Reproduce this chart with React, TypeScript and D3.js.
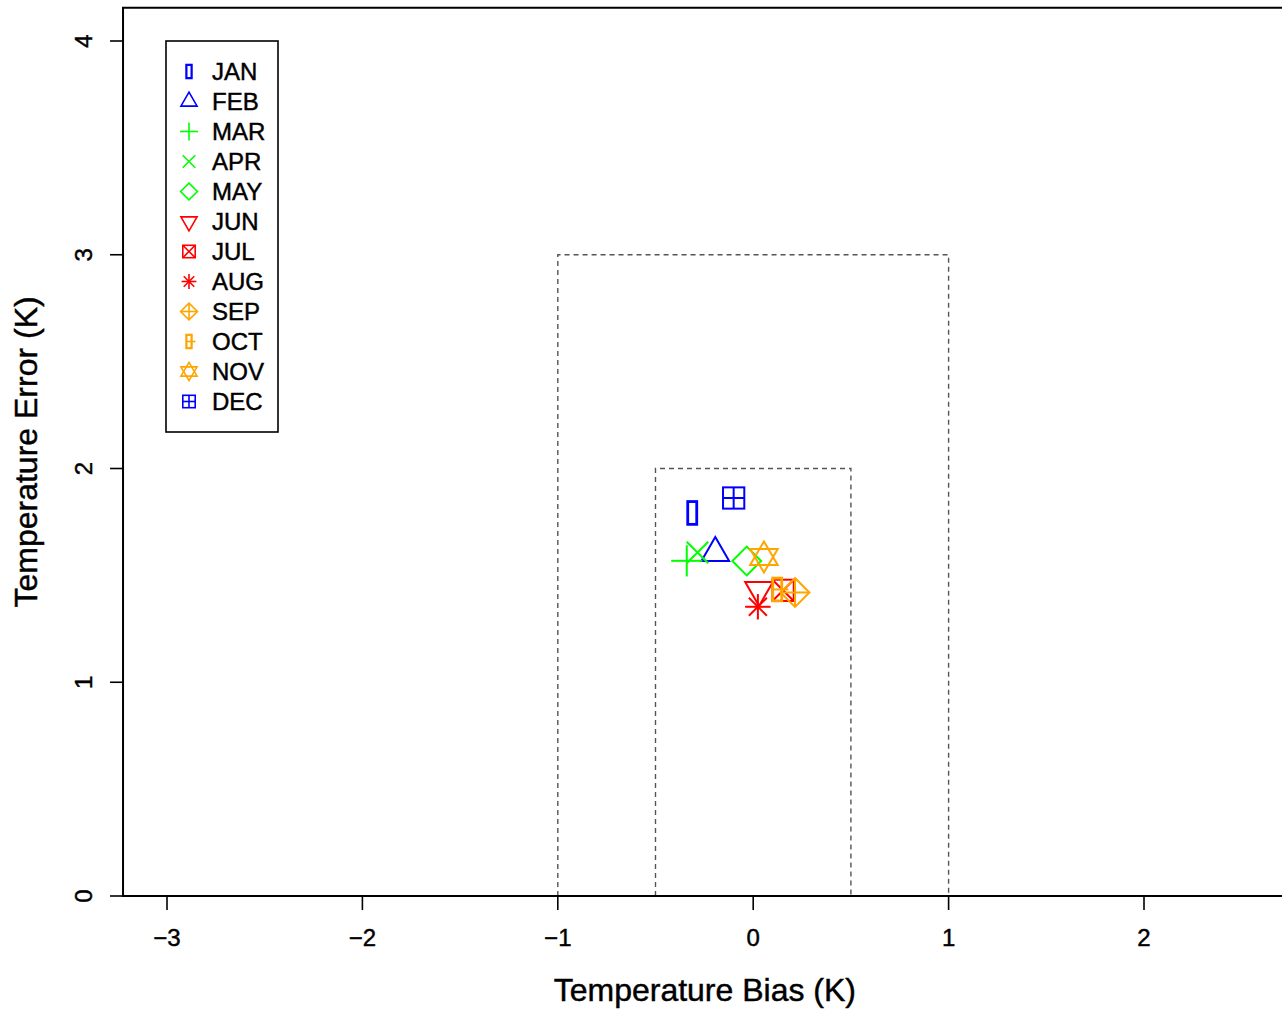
import React from "react";
import * as d3 from "d3";

const months = ["JAN", "FEB", "MAR", "APR", "MAY", "JUN", "JUL", "AUG", "SEP", "OCT", "NOV", "DEC"];
const biasValues = [-0.312, -0.194, -0.34, -0.285, -0.033, 0.03, 0.153, 0.024, 0.214, 0.123, 0.055, -0.1];
const errorValues = [1.792, 1.605, 1.568, 1.607, 1.567, 1.432, 1.43, 1.353, 1.42, 1.434, 1.586, 1.862];
const pchCodes = [1, 2, 3, 4, 5, 6, 7, 8, 9, 10, 11, 12];
const colors = ["#0000FF", "#0000FF", "#00FF00", "#00FF00", "#00FF00", "#FF0000", "#FF0000", "#FF0000", "#FFA500", "#FFA500", "#FFA500", "#0000FF"];
const xTicks = [-3, -2, -1, 0, 1, 2];
const yTicks = [0, 1, 2, 3, 4];
const xLim = [-3.225, 2.73];
const yLim = [0, 4.155];
const targetBoxes = [
  { x0: -1, x1: 1, y1: 3 },
  { x0: -0.5, x1: 0.5, y1: 2 },
];

const W = 1282;
const H = 1011;

const x = d3.scaleLinear().domain([-3, 2]).range([167, 1144]);
const y = d3.scaleLinear().domain([0, 4]).range([896, 41]);

function Symbol({ pch, cx, cy, R, color, sw }: { pch: number; cx: number; cy: number; R: number; color: string; sw: number }) {
  const p = { stroke: color, strokeWidth: sw, fill: "none" } as any;
  const sq = R * 0.886;
  const tr = R * 1.333;
  const txc = tr * 0.866;
  const dm = R * 1.2;
  const pl = R * 1.3;
  const line = (x1: number, y1: number, x2: number, y2: number, k: string) => (
    <line key={k} x1={x1} y1={y1} x2={x2} y2={y2} {...p} />
  );
  const tri = (up: boolean, k: string) => {
    const s = up ? 1 : -1;
    const pts = [
      [cx, cy - s * tr],
      [cx + txc, cy + s * tr * 0.5],
      [cx - txc, cy + s * tr * 0.5],
    ];
    return <polygon key={k} points={pts.map((q) => q.join(",")).join(" ")} {...p} />;
  };
  const diamond = (k: string) => (
    <polygon key={k} points={`${cx},${cy - dm} ${cx + dm},${cy} ${cx},${cy + dm} ${cx - dm},${cy}`} {...p} />
  );
  const square = (k: string) => <rect key={k} x={cx - sq} y={cy - sq} width={2 * sq} height={2 * sq} {...p} />;
  const narrowRect = (k: string) => {
    const w = R * 0.75;
    const h = R * 1.9;
    return <rect key={k} x={cx - w / 2} y={cy - h / 2} width={w} height={h} {...p} strokeWidth={sw * 1.4} />;
  };
  switch (pch) {
    case 1:
      return <g>{narrowRect("a")}</g>;
    case 2:
      return <g>{tri(true, "a")}</g>;
    case 3:
      return <g>{line(cx - pl, cy, cx + pl, cy, "a")}{line(cx, cy - pl, cx, cy + pl, "b")}</g>;
    case 4:
      return <g>{line(cx - R * 0.9, cy - R * 0.9, cx + R * 0.9, cy + R * 0.9, "a")}{line(cx - R * 0.9, cy + R * 0.9, cx + R * 0.9, cy - R * 0.9, "b")}</g>;
    case 5:
      return <g>{diamond("a")}</g>;
    case 6:
      return <g>{tri(false, "a")}</g>;
    case 7:
      return <g>{square("a")}{line(cx - sq, cy - sq, cx + sq, cy + sq, "b")}{line(cx - sq, cy + sq, cx + sq, cy - sq, "c")}</g>;
    case 8: {
      const a = R * 0.75;
      const b = R * 1.06;
      return (
        <g>
          {line(cx - a, cy - a, cx + a, cy + a, "a")}
          {line(cx - a, cy + a, cx + a, cy - a, "b")}
          {line(cx - b, cy, cx + b, cy, "c")}
          {line(cx, cy - b, cx, cy + b, "d")}
        </g>
      );
    }
    case 9:
      return <g>{diamond("a")}{line(cx - dm, cy, cx + dm, cy, "b")}{line(cx, cy - dm, cx, cy + dm, "c")}</g>;
    case 10: {
      const w = R * 0.75;
      return (
        <g>
          {narrowRect("a")}
          {line(cx - w / 2, cy, cx + w / 2 + R * 0.55, cy, "b")}
        </g>
      );
    }
    case 11: {
      const h = R * 1.3;
      const hw = R * 1.15;
      const b = R * 0.66;
      return (
        <g>
          <polygon points={`${cx},${cy - h} ${cx + hw},${cy + b} ${cx - hw},${cy + b}`} {...p} />
          <polygon points={`${cx},${cy + h} ${cx + hw},${cy - b} ${cx - hw},${cy - b}`} {...p} />
        </g>
      );
    }
    case 12:
      return <g>{square("a")}{line(cx - sq, cy, cx + sq, cy, "b")}{line(cx, cy - sq, cx, cy + sq, "c")}</g>;
    default:
      return null;
  }
}

export default function App() {
  const left = x(xLim[0]);
  const right = x(xLim[1]);
  const top = y(yLim[1]);
  const bottom = y(yLim[0]);
  const font = "'Liberation Sans', Arial, Helvetica, sans-serif";
  const legX = 166;
  const legY = 41;
  const legW = 112;
  const legH = 391;
  const legRow0 = 71.5;
  const legStep = 30;
  const heavy = { stroke: "#000", strokeWidth: 0.45 } as any;

  return (
    <svg
      width={W}
      height={H}
      viewBox={`0 0 ${W} ${H}`}
      style={{ position: "absolute", left: 0, top: 0, background: "#fff" }}
      fontFamily={font}
    >
      <rect x={0} y={0} width={W} height={H} fill="#fff" />
      {targetBoxes.map((b, i) => (
        <path
          key={i}
          d={`M${x(b.x0)},${y(0)} L${x(b.x0)},${y(b.y1)} L${x(b.x1)},${y(b.y1)} L${x(b.x1)},${y(0)}`}
          fill="none"
          stroke="#555"
          strokeWidth={1.4}
          strokeDasharray="5,4"
        />
      ))}
      <path d={`M${right},${top} L${left},${top} L${left},${bottom} L${right},${bottom}`} fill="none" stroke="#000" strokeWidth={2} />
      {xTicks.map((t) => (
        <g key={`xt${t}`}>
          <line x1={x(t)} x2={x(t)} y1={bottom} y2={bottom + 14} stroke="#000" strokeWidth={1.6} />
          <text x={x(t)} y={946} fontSize={24} textAnchor="middle" fill="#000" {...heavy}>
            {t < 0 ? `\u2212${Math.abs(t)}` : `${t}`}
          </text>
        </g>
      ))}
      {yTicks.map((t) => (
        <g key={`yt${t}`}>
          <line x1={left} x2={left - 13} y1={y(t)} y2={y(t)} stroke="#000" strokeWidth={1.6} />
          <text transform={`translate(92,${y(t)}) rotate(-90)`} fontSize={24} textAnchor="middle" fill="#000" {...heavy}>
            {t}
          </text>
        </g>
      ))}
      <text x={(left + right) / 2} y={1001} fontSize={32} textAnchor="middle" fill="#000" {...heavy}>
        Temperature Bias (K)
      </text>
      <text transform={`translate(37,${(top + bottom) / 2}) rotate(-90)`} fontSize={32} textAnchor="middle" fill="#000" {...heavy}>
        Temperature Error (K)
      </text>
      {months.map((m, i) => (
        <Symbol key={m} pch={pchCodes[i]} cx={x(biasValues[i])} cy={y(errorValues[i])} R={12} color={colors[i]} sw={2} />
      ))}
      <rect x={legX} y={legY} width={legW} height={legH} fill="#fff" stroke="#000" strokeWidth={1.6} />
      {months.map((m, i) => {
        const cy = legRow0 + i * legStep;
        return (
          <g key={`lg${m}`}>
            <Symbol pch={pchCodes[i]} cx={189} cy={cy} R={7} color={colors[i]} sw={1.6} />
            <text x={212} y={cy + 8.5} fontSize={24} fill="#000" {...heavy}>
              {m}
            </text>
          </g>
        );
      })}
    </svg>
  );
}
